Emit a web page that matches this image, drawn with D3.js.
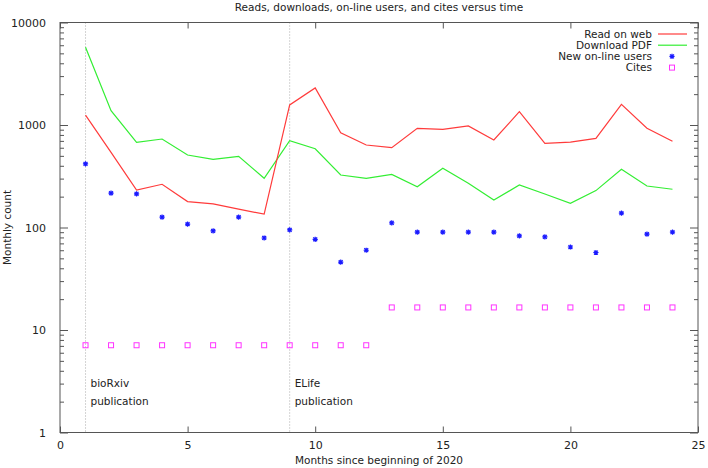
<!DOCTYPE html>
<html>
<head>
<meta charset="utf-8">
<script src="https://cdn.jsdelivr.net/npm/d3@7"></script>
<style>
  body { margin: 0; background: #fff; }
  text { font-family: "DejaVu Sans", sans-serif; fill: #222; }
</style>
</head>
<body>
<svg class="chart"></svg>
<script>
// data
var months = [1,2,3,4,5,6,7,8,9,10,11,12,13,14,15,16,17,18,19,20,21,22,23,24];
var readWeb = [1250,540,232,264,179,170,151,135,1570,2300,841,638,601,929,908,978,714,1349,663,682,741,1592,929,693];
var downloadPdf = [5730,1380,678,730,510,463,495,302,703,587,325,302,330,250,378,270,185,260,212,172,229,370,254,236];
var newUsers = [417,216,213,126,108,92.5,126,79,94.6,76.7,46,60,111,90,90,90,90,83,81,64.5,57,138,86,90];
var cites = [7.1,7.1,7.1,7.1,7.1,7.1,7.1,7.1,7.1,7.1,7.1,7.1,16.6,16.6,16.6,16.6,16.6,16.6,16.6,16.6,16.6,16.6,16.6,16.6];
var xTicks = [0,5,10,15,20,25];
var yTicks = [1,10,100,1000,10000];
var events = [{x: 1, lines: ["bioRxiv", "publication"]}, {x: 9, lines: ["ELife", "publication"]}];

var svgWidth = 708, svgHeight = 468;
var plotLeft = 60, plotRight = 698, plotTop = 22.5, plotBottom = 432.5;

var svg = d3.select(".chart")
  .attr("width", svgWidth)
  .attr("height", svgHeight);

var xScale = d3.scaleLinear().domain([0, 25]).range([plotLeft, plotRight]);
var yScale = d3.scaleLog().domain([1, 10000]).range([plotBottom, plotTop]);

// minor ticks for the log axis
var minor = [];
yTicks.forEach(function (d) {
  if (d < 10000) for (var k = 2; k <= 9; k++) minor.push(d * k);
});

var axisColor = "#555";

// event markers
svg.selectAll(".event")
  .data(events)
  .enter()
  .append("line")
  .attr("x1", function (d) { return xScale(d.x); })
  .attr("x2", function (d) { return xScale(d.x); })
  .attr("y1", plotTop)
  .attr("y2", plotBottom)
  .attr("stroke", "#aaa")
  .attr("stroke-width", 1)
  .attr("stroke-dasharray", "1,2");

events.forEach(function (e) {
  e.lines.forEach(function (t, i) {
    svg.append("text")
      .attr("x", xScale(e.x) + 5)
      .attr("y", 387 + i * 18)
      .attr("font-size", 10.5)
      .text(t);
  });
});

// axes, gnuplot style: ticks inward, mirrored
var bottomAxis = d3.axisBottom(xScale).tickValues(xTicks).tickSize(-6).tickPadding(9).tickFormat(d3.format("d"));
var topAxis = d3.axisTop(xScale).tickValues(xTicks).tickSize(-6).tickFormat("");
var leftAxis = d3.axisLeft(yScale).tickValues(yTicks).tickSize(-8).tickPadding(14).tickFormat(d3.format("d"));
var rightAxis = d3.axisRight(yScale).tickValues(yTicks).tickSize(-8).tickFormat("");
var leftMinor = d3.axisLeft(yScale).tickValues(minor).tickSize(-4).tickFormat("");
var rightMinor = d3.axisRight(yScale).tickValues(minor).tickSize(-4).tickFormat("");

function styleAxis(g) {
  g.selectAll("path, line").attr("stroke", axisColor);
  g.select(".domain").remove();
  g.selectAll("text").attr("font-size", 11).attr("font-family", "DejaVu Sans").attr("fill", "#222");
}

svg.append("g").attr("transform", "translate(0," + plotBottom + ")").call(bottomAxis).call(styleAxis);
svg.append("g").attr("transform", "translate(0," + plotTop + ")").call(topAxis).call(styleAxis);
svg.append("g").attr("transform", "translate(" + plotLeft + ",0)").call(leftAxis).call(styleAxis);
svg.append("g").attr("transform", "translate(" + plotRight + ",0)").call(rightAxis).call(styleAxis);
svg.append("g").attr("transform", "translate(" + plotLeft + ",0)").call(leftMinor).call(styleAxis);
svg.append("g").attr("transform", "translate(" + plotRight + ",0)").call(rightMinor).call(styleAxis);

svg.append("rect")
  .attr("x", plotLeft)
  .attr("y", plotTop)
  .attr("width", plotRight - plotLeft)
  .attr("height", plotBottom - plotTop)
  .attr("fill", "none")
  .attr("stroke", axisColor)
  .attr("stroke-width", 1);

// series lines
var line = d3.line()
  .x(function (d, i) { return xScale(months[i]); })
  .y(function (d) { return yScale(d); });

svg.append("path")
  .attr("d", line(downloadPdf))
  .attr("fill", "none")
  .attr("stroke", "#33ee33")
  .attr("stroke-width", 1.2);

svg.append("path")
  .attr("d", line(readWeb))
  .attr("fill", "none")
  .attr("stroke", "#ff3b3b")
  .attr("stroke-width", 1.2);

// asterisk markers
function star(g, x, y) {
  var s = 2.6;
  g.append("path")
    .attr("d", "M" + (x - s) + "," + y + "H" + (x + s) +
      "M" + x + "," + (y - s) + "V" + (y + s) +
      "M" + (x - s * 0.75) + "," + (y - s * 0.75) + "L" + (x + s * 0.75) + "," + (y + s * 0.75) +
      "M" + (x - s * 0.75) + "," + (y + s * 0.75) + "L" + (x + s * 0.75) + "," + (y - s * 0.75))
    .attr("stroke", "#1a1aff")
    .attr("stroke-width", 1.2)
    .attr("fill", "none");
}

var users = svg.append("g");
newUsers.forEach(function (d, i) {
  star(users, xScale(months[i]), yScale(d));
});

svg.selectAll(".cite")
  .data(cites)
  .enter()
  .append("rect")
  .attr("x", function (d, i) { return xScale(months[i]) - 2.5; })
  .attr("y", function (d) { return yScale(d) - 2.5; })
  .attr("width", 5)
  .attr("height", 5)
  .attr("fill", "none")
  .attr("stroke", "#ff33ff")
  .attr("stroke-width", 1);

// legend
var legend = [
  {name: "Read on web", kind: "line", color: "#ff3b3b"},
  {name: "Download PDF", kind: "line", color: "#33ee33"},
  {name: "New on-line users", kind: "star"},
  {name: "Cites", kind: "square"}
];
legend.forEach(function (d, i) {
  var y = 34 + i * 11.2;
  svg.append("text")
    .attr("x", 652)
    .attr("y", y + 3.8)
    .attr("text-anchor", "end")
    .attr("font-size", 10.5)
    .text(d.name);
  if (d.kind === "line") {
    svg.append("line")
      .attr("x1", 658).attr("x2", 687)
      .attr("y1", y).attr("y2", y)
      .attr("stroke", d.color).attr("stroke-width", 1.2);
  } else if (d.kind === "star") {
    star(svg, 672, y);
  } else {
    svg.append("rect")
      .attr("x", 669.5).attr("y", y - 2.5)
      .attr("width", 5).attr("height", 5)
      .attr("fill", "none").attr("stroke", "#ff33ff");
  }
});

// titles
svg.append("text")
  .attr("x", (plotLeft + plotRight) / 2)
  .attr("y", 11)
  .attr("text-anchor", "middle")
  .attr("font-size", 10.5)
  .text("Reads, downloads, on-line users, and cites versus time");

svg.append("text")
  .attr("x", (plotLeft + plotRight) / 2)
  .attr("y", 464)
  .attr("text-anchor", "middle")
  .attr("font-size", 10.5)
  .text("Months since beginning of 2020");

svg.append("text")
  .attr("transform", "translate(11," + ((plotTop + plotBottom) / 2) + ") rotate(-90)")
  .attr("text-anchor", "middle")
  .attr("font-size", 10.5)
  .text("Monthly count");
</script>
</body>
</html>
